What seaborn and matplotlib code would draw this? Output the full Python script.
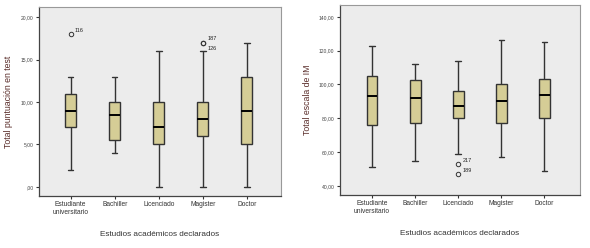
import matplotlib
matplotlib.use("Agg")
import matplotlib.pyplot as plt
import seaborn as sns
import pandas as pd

# categories
niveles = ["Estudiante\nuniversitario", "Bachiller", "Licenciado", "Magister", "Doctor"]

# five-number summaries: low whisker, Q1, median, Q3, high whisker
test_low = [2, 4, 0, 0, 0]
test_q1 = [7, 5.5, 5, 6, 5]
test_med = [9, 8.5, 7, 8, 9]
test_q3 = [11, 10, 10, 10, 13]
test_high = [13, 13, 16, 16, 17]
test_out = [[18], [], [], [17, 17], []]
test_out_ids = [["116"], [], [], ["187", "126"], []]

im_low = [51, 55, 59, 57, 49]
im_q1 = [76, 77.5, 80, 77, 80]
im_med = [93, 92, 87, 90, 93.5]
im_q3 = [105, 102.5, 96, 100, 103]
im_high = [123, 112, 114, 126, 125]
im_out = [[], [], [53, 47], [], []]
im_out_ids = [[], [], ["217", "189"], [], []]


def build_frame(low, q1, med, q3, high, outs):
    # each summary value repeated so the quartiles come out exactly as read
    rows = []
    for i, cat in enumerate(niveles):
        for v in (low[i], q1[i], med[i], q3[i], high[i]):
            rows += [(cat, v)] * 7
        rows += [(cat, v) for v in outs[i]]
    return pd.DataFrame(rows, columns=["nivel", "valor"])


df_test = build_frame(test_low, test_q1, test_med, test_q3, test_high, test_out)
df_im = build_frame(im_low, im_q1, im_med, im_q3, im_high, im_out)

sns.set_style("white")
plt.rcParams["font.family"] = ["Liberation Sans", "DejaVu Sans"]

fig = plt.figure(figsize=(5.9, 2.48), dpi=100)
ax1 = fig.add_axes([0.066, 0.21, 0.41, 0.762])
ax2 = fig.add_axes([0.576, 0.214, 0.407, 0.766])

box_color = "#d5cd96"
edge = "#333333"


def draw(ax, df, outs, ids, ylabel, yticks, ylim, xlim, ylab_x):
    ax.set_facecolor("#ececec")
    sns.boxplot(data=df, x="nivel", y="valor", order=niveles, ax=ax, width=0.25,
                color=box_color, saturation=1, linewidth=1.0, linecolor=edge, whis=1.5,
                medianprops=dict(color="black", linewidth=1.4),
                flierprops=dict(marker="o", markersize=3.2, markerfacecolor="none",
                                markeredgecolor=edge, markeredgewidth=0.7))
    span = ylim[1] - ylim[0]
    for i in range(len(niveles)):
        vals = outs[i]
        labs = ids[i]
        if len(vals) == 2 and vals[0] == vals[1]:
            ax.text(i + 0.1, vals[0] + span * 0.02, labs[0], fontsize=4, va="center", color="#222222")
            ax.text(i + 0.1, vals[0] - span * 0.03, labs[1], fontsize=4, va="center", color="#222222")
        else:
            for v, lab in zip(vals, labs):
                ax.text(i + 0.1, v + span * 0.02, lab, fontsize=4, va="center", color="#222222")
    ax.set_xlim(xlim)
    ax.set_ylim(ylim)
    ax.set_yticks(yticks)
    labels = []
    for t in yticks:
        s = ("%.2f" % t).replace(".", ",")
        if t == 0:
            s = ",00"
        labels.append(s)
    ax.set_yticklabels(labels, fontsize=3.6, color="#444444")
    ax.set_xticks(range(len(niveles)))
    ax.set_xticklabels(niveles, fontsize=4.8, color="#333333", linespacing=1.1)
    ax.tick_params(axis="both", length=2.5, width=0.8, color="#333333", pad=1.5,
                   left=True, bottom=True)
    ax.set_ylabel(ylabel, fontsize=6.3, color="#5a2d2a")
    ax.yaxis.set_label_coords(ylab_x, 0.5)
    ax.set_xlabel("Estudios académicos declarados", fontsize=5.9, color="#333333")
    ax.xaxis.set_label_coords(0.5, -0.185)
    for s in ["top", "right"]:
        ax.spines[s].set_color("#999999")
        ax.spines[s].set_linewidth(0.8)
    for s in ["left", "bottom"]:
        ax.spines[s].set_color("#444444")
        ax.spines[s].set_linewidth(0.9)


draw(ax1, df_test, test_out, test_out_ids, "Total puntuación en test",
     [0, 5, 10, 15, 20], (-1.06, 21.2), (-0.72, 4.77), -0.107)
draw(ax2, df_im, im_out, im_out_ids, "Total escala de IM",
     [40, 60, 80, 100, 120, 140], (34.7, 147), (-0.75, 4.83), -0.117)

fig.savefig("out.png", dpi=100)
